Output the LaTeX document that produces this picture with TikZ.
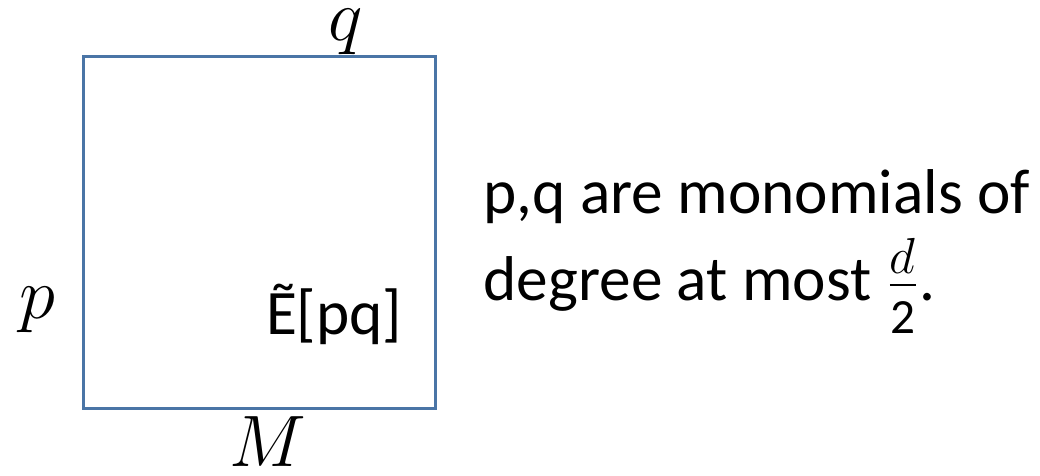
\documentclass[tikz,border=0pt]{standalone}
\usepackage{fontspec}
\setmainfont{Carlito}
\usepackage{tikz}
\definecolor{boxblue}{RGB}{74,117,166}
\tikzset{
    mathlabel/.style={font=\fontsize{20}{24}\selectfont, inner sep=0pt, anchor=base}
}

\begin{document}
\begin{tikzpicture}[x=0.01cm,y=-0.01cm]
\useasboundingbox (0,0) rectangle (1040,475);

\node[
    draw=boxblue,
    line width=0.9pt,
    minimum width=3.51cm,
    minimum height=3.51cm,
    inner sep=0pt
] (matrixbox) at (259.5,232.5) {};

\node[mathlabel] (qlabel) at (346,40) {$q$};
\node[mathlabel] (plabel) at (37,318) {$p$};
\node[mathlabel] (mlabel) at (268,466) {$M$};

\node[anchor=base east, font=\fontsize{18}{22}\selectfont, inner sep=0pt] (entry) at (403,334) {Ẽ[pq]};

\node[
    anchor=base west,
    align=left,
    inner sep=0pt,
    font=\fontsize{18}{24.7}\selectfont
] (caption) at (483,300) {p,q are monomials of\\degree at most
    $\frac{\raisebox{0.3mm}{\fontsize{14}{16}\selectfont$d$}}{\raisebox{-1.3mm}{\fontsize{14}{16}\selectfont 2}}$.};

\end{tikzpicture}
\end{document}
